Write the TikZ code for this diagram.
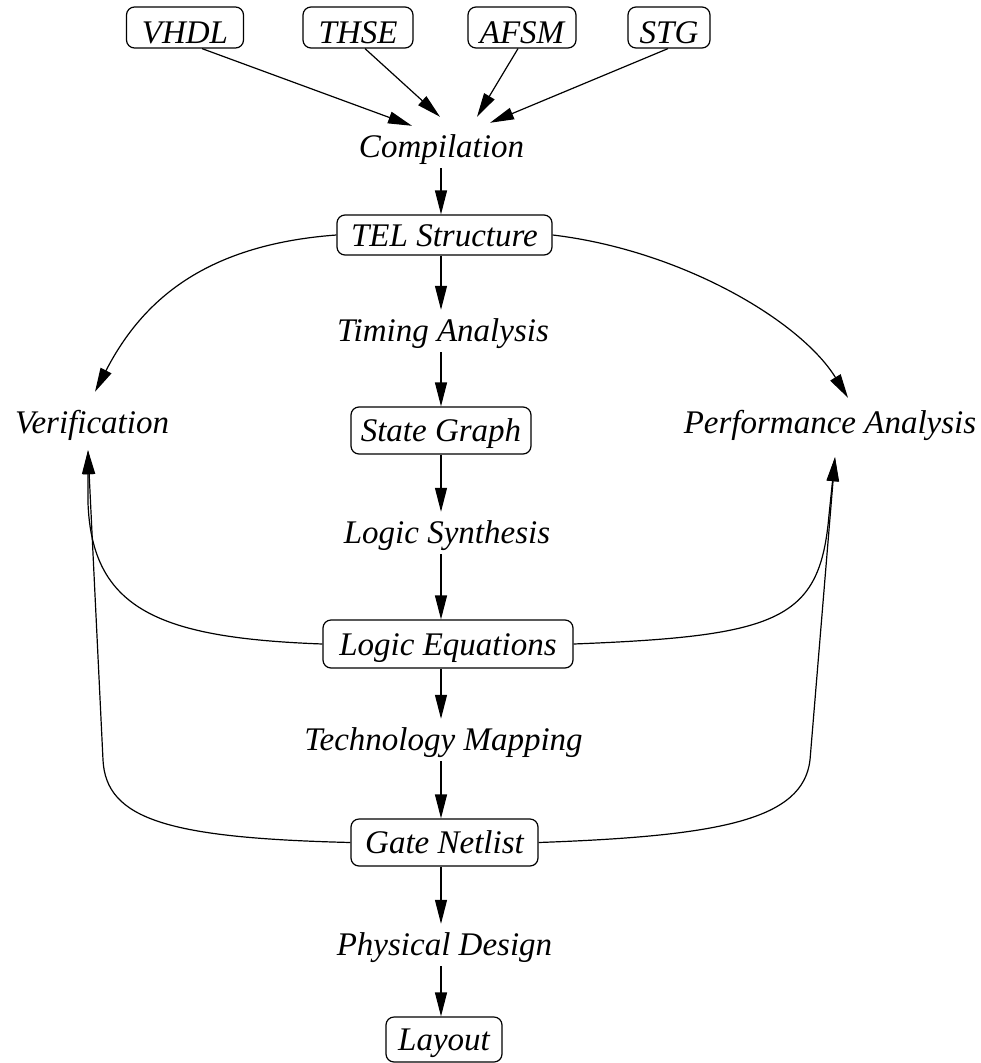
\documentclass[tikz,border=0pt]{standalone}
\usepackage{fontspec}
\setmainfont{Liberation Serif}
\usetikzlibrary{arrows.meta}
\begin{document}
\begin{tikzpicture}[x=1pt,y=-1pt,
  every node/.style={font=\fontsize{33}{40}\selectfont\itshape},
  box/.style={draw, line width=1.2pt, rounded corners=8pt, inner xsep=4pt, inner ysep=0pt, text height=22pt, text depth=0pt},
  topbox/.style={box, minimum height=41pt, text height=31pt},
  lbl/.style={inner xsep=4pt, inner ysep=9pt, text height=22pt, text depth=2pt, anchor=base},
  arr/.style={line width=1.2pt, -{Triangle[length=24pt,width=12pt]}}]
\fill[white] (0,0) rectangle (980,1063);
\useasboundingbox (0,0) rectangle (980,1063);

\node[topbox, minimum width=117pt] (vhdl) at (185,27.5) {VHDL};
\node[topbox, minimum width=110pt] (thse) at (358,27.5) {THSE};
\node[topbox, minimum width=108pt] (afsm) at (522,27.5) {AFSM};
\node[topbox, minimum width=82pt] (stg) at (669,27.5) {STG};

\node[lbl] (comp) at (441.5,157) {Compilation};
\node[box, minimum width=215pt, minimum height=40pt] (tel) at (444.5,235) {TEL Structure};
\node[lbl] (timing) at (443,341) {Timing Analysis};
\node[box, minimum width=180pt, minimum height=47pt] (sg) at (441,430.5) {State Graph};
\node[lbl] (verif) at (92,433) {Verification};
\node[lbl] (perf) at (830,433) {Performance Analysis};
\node[lbl] (ls) at (447,543) {Logic Synthesis};
\node[box, minimum width=250pt, minimum height=48pt] (le) at (448,644) {Logic Equations};
\node[lbl] (tech) at (443.5,750) {Technology Mapping};
\node[box, minimum width=187pt, minimum height=47pt] (gate) at (444.5,842.5) {Gate Netlist};
\node[lbl] (phys) at (444.5,955) {Physical Design};
\node[box, minimum width=116pt, minimum height=45pt] (layout) at (444,1039.5) {Layout};

% inputs to compilation
\draw[arr] ([xshift=17pt]vhdl.south) -- ([xshift=-29.5pt]comp.north);
\draw[arr] ([xshift=7pt]thse.south) -- ([xshift=-1.5pt,yshift=9pt]comp.north);
\draw[arr] ([xshift=-4pt]afsm.south) -- ([xshift=35.5pt,yshift=9pt]comp.north);
\draw[arr] ([xshift=-1pt]stg.south) -- ([xshift=48.5pt,yshift=3pt]comp.north);

% main chain
\draw[arr] (comp.south -| 441,0) -- (tel.north -| 441,0);
\draw[arr] (tel.south -| 441,0) -- (timing.north -| 441,0);
\draw[arr] (timing.south -| 441,0) -- (sg.north -| 441,0);
\draw[arr] (sg.south -| 441,0) -- (ls.north -| 441,0);
\draw[arr] (ls.south -| 441,0) -- (le.north -| 441,0);
\draw[arr] (le.south -| 441,0) -- (tech.north -| 441,0);
\draw[arr] (tech.south -| 441,0) -- (gate.north -| 441,0);
\draw[arr] (gate.south -| 441,0) -- (phys.north -| 441,0);
\draw[arr] (phys.south -| 441,0) -- (layout.north -| 441,0);

% side branches
\draw[arr] (tel.west) .. controls (200,245) and (140,305) .. ([xshift=3pt,yshift=10pt]verif.north);
\draw[arr] (tel.east) .. controls (680,250) and (800,320) .. ([xshift=18pt,yshift=4pt]perf.north);

\draw[arr] (le.west) .. controls (160,638) and (92,610) .. (88,503) -- ([xshift=-4pt,yshift=-6pt]verif.south);
\draw[arr] (gate.west) .. controls (170,838) and (106,820) .. (103,760) -- ([xshift=-4pt,yshift=-6pt]verif.south);

\draw[arr] (le.east) .. controls (780,636) and (820,620) .. (829,515) -- ([xshift=5pt,yshift=-13pt]perf.south);
\draw[arr] (gate.east) .. controls (720,836) and (803,820) .. (810,760) -- ([xshift=5pt,yshift=-13pt]perf.south);
\end{tikzpicture}
\end{document}
